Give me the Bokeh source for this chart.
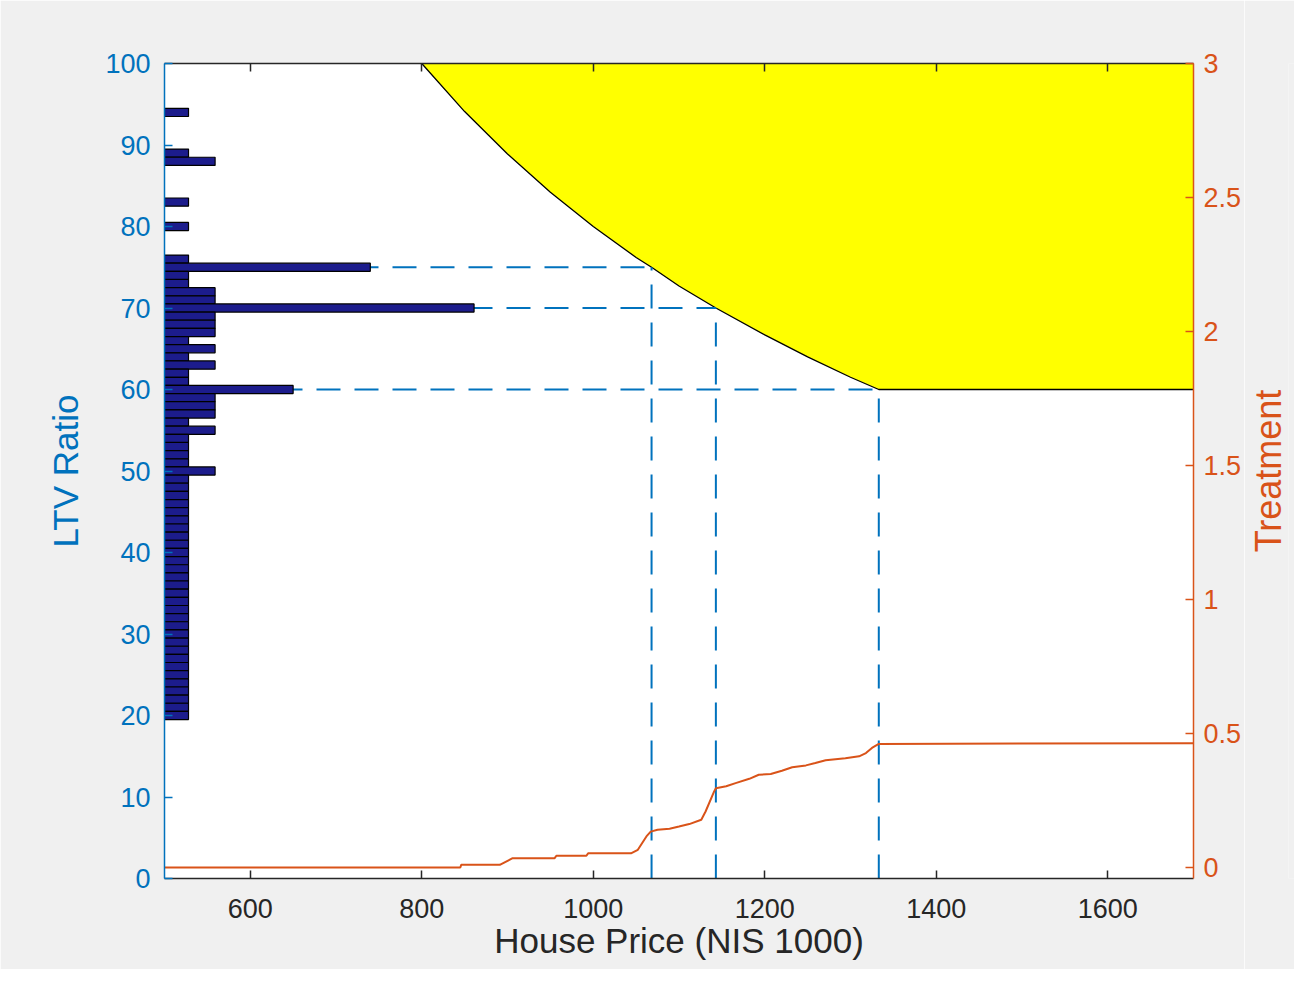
from bokeh.plotting import figure
from bokeh.models import Range1d, LinearAxis, FixedTicker
from bokeh.layouts import row
from bokeh.embed import file_html
from bokeh.resources import INLINE

# ---- data ----
ltv_bins = [94, 89, 88, 83, 80, 76, 75, 74, 73, 72, 71, 70, 69, 68, 67, 66, 65, 64, 63,
            62, 61, 60, 59, 58, 57, 56, 55, 54, 53, 52, 51, 50] + list(range(49, 19, -1))
bar_end = [528, 528, 559, 528, 528, 528, 740, 528, 528, 559, 559, 861, 559, 559, 559, 528, 559, 528, 559,
           528, 528, 650, 559, 559, 559, 528, 559, 528, 528, 528, 528, 559] + [528] * 30

limit_price = [800, 850, 900, 950, 1000, 1050, 1068, 1100, 1143, 1200, 1250, 1300, 1333, 1700]
limit_ltv = [100, 94.1, 88.9, 84.2, 80, 76.2, 75, 72.7, 70, 66.7, 64, 61.5, 60, 60]

thr_ltv = [75, 70, 60]
thr_price = [1068, 1143, 1333]

treat_price = [500, 845, 846, 891, 906, 955, 957, 992, 994, 1044, 1052, 1062, 1067, 1075, 1089,
               1100, 1112, 1126, 1131, 1141, 1143, 1155, 1166, 1182, 1193, 1207, 1220, 1232, 1248,
               1259, 1271, 1294, 1310, 1318, 1325, 1333, 1700]
treat_val = [0, 0, 0.01, 0.01, 0.035, 0.035, 0.044, 0.044, 0.053, 0.053, 0.066, 0.116, 0.134, 0.141,
             0.145, 0.153, 0.162, 0.178, 0.209, 0.284, 0.296, 0.303, 0.315, 0.331, 0.346, 0.349,
             0.361, 0.374, 0.381, 0.39, 0.4, 0.408, 0.415, 0.427, 0.446, 0.461, 0.464]

x_ticks = [600, 800, 1000, 1200, 1400, 1600]
left_ticks = [0, 10, 20, 30, 40, 50, 60, 70, 80, 90, 100]
right_ticks = [0, 0.5, 1, 1.5, 2, 2.5, 3]
right_labels = ["0", "0.5", "1", "1.5", "2", "2.5", "3"]

BLUE = "#0072BD"
ORANGE = "#D95319"
DARK = "#262626"
BG = "#F0F0F0"
FONT = "Liberation Sans"

p = figure(width=1244, height=969, x_range=Range1d(500, 1700), y_range=Range1d(0, 100),
           output_backend="svg", toolbar_location=None,
           min_border_left=164, min_border_right=49, min_border_top=63, min_border_bottom=91,
           background_fill_color="white", border_fill_color=BG, outline_line_color=None)
p.extra_y_ranges = {"treat": Range1d(-0.041, 3)}
p.xgrid.visible = False
p.ygrid.visible = False

# yellow region above the limit curve
p.varea(x=limit_price, y1=limit_ltv, y2=[100] * len(limit_price), fill_color="#FFFF00")
p.line(limit_price, limit_ltv, line_color="black", line_width=1.3)

# dashed guide lines
p.segment(x0=[500] * 3, y0=thr_ltv, x1=thr_price, y1=thr_ltv,
          line_color=BLUE, line_width=2, line_dash="24 14")
p.segment(x0=thr_price, y0=[0] * 3, x1=thr_price, y1=thr_ltv,
          line_color=BLUE, line_width=2, line_dash="24 14")

# histogram bars
p.hbar(y=ltv_bins, left=500, right=bar_end, height=1, fill_color="#1C1C8C",
       line_color="black", line_width=1.2)

# treatment line
p.line(treat_price, treat_val, y_range_name="treat", line_color=ORANGE, line_width=2)


def style(ax, color, ticks, size="27px"):
    ax.ticker = FixedTicker(ticks=ticks)
    ax.axis_line_color = color
    ax.axis_line_width = 1.5
    ax.major_tick_line_color = color
    ax.major_tick_line_width = 1.5
    ax.major_tick_in = 8
    ax.major_tick_out = 0
    ax.minor_tick_line_color = None
    ax.major_label_text_color = color
    ax.major_label_text_font = FONT
    ax.major_label_text_font_size = size
    ax.axis_label_text_color = color
    ax.axis_label_text_font = FONT
    ax.axis_label_text_font_size = "35px"
    ax.axis_label_text_font_style = "normal"


xa = p.xaxis[0]
style(xa, DARK, x_ticks)
xa.axis_label = "House Price (NIS 1000)"
xa.major_label_standoff = 20
xa.axis_label_standoff = 0

ya = p.yaxis[0]
style(ya, BLUE, left_ticks)
ya.axis_label = "LTV Ratio"
ya.major_label_standoff = 14
ya.axis_label_standoff = 17

ra = LinearAxis(y_range_name="treat")
style(ra, ORANGE, right_ticks)
ra.major_label_overrides = {t: s for t, s in zip(right_ticks, right_labels)}
ra.major_label_standoff = 10
ra.axis_label = None
p.add_layout(ra, "right")

ta = LinearAxis()
style(ta, DARK, x_ticks)
ta.major_label_text_font_size = "0px"
ta.major_label_standoff = 0
ta.axis_label = None
p.add_layout(ta, "above")

# narrow companion panel that carries the right-hand title, read bottom to top
p2 = figure(width=50, height=969, x_range=Range1d(0, 1), y_range=Range1d(0, 1),
            output_backend="svg", toolbar_location=None, x_axis_location=None,
            min_border_left=44, min_border_right=0, min_border_top=63, min_border_bottom=91,
            background_fill_color=BG, border_fill_color=BG, outline_line_color=None)
p2.xgrid.visible = False
p2.ygrid.visible = False
t_ax = p2.yaxis[0]
t_ax.ticker = FixedTicker(ticks=[])
t_ax.axis_line_color = None
t_ax.major_tick_line_color = None
t_ax.minor_tick_line_color = None
t_ax.major_label_text_font_size = "0px"
t_ax.major_label_standoff = 0
t_ax.axis_label = "Treatment"
t_ax.axis_label_standoff = 0
t_ax.axis_label_text_color = ORANGE
t_ax.axis_label_text_font = FONT
t_ax.axis_label_text_font_size = "36px"
t_ax.axis_label_text_font_style = "normal"

layout = row(p, p2, spacing=0)

TEMPLATE = """{% extends base %}
{% block postamble %}<style>html, body { background: #F0F0F0; }</style>{% endblock %}
"""
try:
    html = file_html(layout, INLINE, template=TEMPLATE)
except Exception:
    html = file_html(layout, INLINE)
open("out.html", "w").write(html)
